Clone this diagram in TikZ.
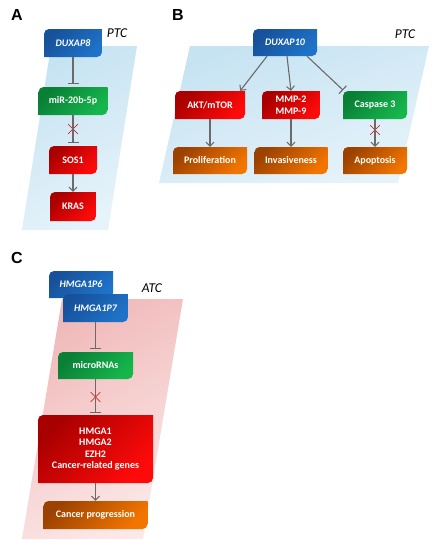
\documentclass[tikz,border=0pt]{standalone}
\usepackage{fontspec}
\setsansfont{Carlito}
\newfontfamily\panelfont{Liberation Sans}
\usetikzlibrary{arrows.meta,shapes.misc}

\definecolor{bluedark}{HTML}{17519A}
\definecolor{bluelight}{HTML}{1E73C8}
\definecolor{greendark}{HTML}{0A7F36}
\definecolor{greenlight}{HTML}{15B64C}
\definecolor{reddark}{HTML}{A80000}
\definecolor{redlight}{HTML}{FF0A0A}
\definecolor{orangedark}{HTML}{9C4200}
\definecolor{orangelight}{HTML}{F27500}
\definecolor{linkgray}{HTML}{6A6A6A}
\definecolor{skytop}{HTML}{C6E3F2}
\definecolor{skybot}{HTML}{E6F3FA}
\definecolor{rosetop}{HTML}{F0B9B9}
\definecolor{rosebot}{HTML}{FCE8E8}

\tikzset{
  leaf/.style 2 args={inner sep=1pt, text=white, align=center,
    font=\sffamily\bfseries\fontsize{10}{11.5}\selectfont,
    path picture={\shade[x=1pt, y=1pt, top color=#1, bottom color=#2, shading angle=45]
      (path picture bounding box.south west) -- ([yshift=-5pt]path picture bounding box.north west)
      arc[start angle=180, end angle=90, radius=5pt] -- (path picture bounding box.north east)
      -- ([yshift=5pt]path picture bounding box.south east)
      arc[start angle=0, end angle=-90, radius=5pt] -- cycle;}},
  bluebox/.style={leaf={bluedark}{bluelight}},
  greenbox/.style={leaf={greendark}{greenlight}},
  redbox/.style={leaf={reddark}{redlight}},
  orangebox/.style={leaf={orangedark}{orangelight}},
  act/.style={draw=linkgray, line width=1.1pt, -{Straight Barb[length=4pt, width=8pt, line width=1pt]}},
  inh/.style={draw=linkgray, line width=1.1pt, -{Bar[width=11pt, line width=1.1pt]}, shorten >=3pt},
  stop/.style={cross out, draw=red!85!black, line width=0.6pt, minimum size=9pt, inner sep=0pt},
  panel/.style={font=\panelfont\bfseries\fontsize{16}{16}\selectfont},
  tag/.style={font=\sffamily\itshape\fontsize{13.5}{13.5}\selectfont}
}

\begin{document}
\begin{tikzpicture}[x=1pt, y=-1pt]
    \useasboundingbox (0,0) rectangle (436,550);
    \shade[top color=skytop, bottom color=skybot, shading angle=30] (51,46) -- (137,46) -- (108,230) -- (22,230) -- cycle;
    \shade[top color=skytop, bottom color=skybot, shading angle=20] (190,46) -- (429,46) -- (398,183) -- (159,183) -- cycle;
    \shade[top color=rosetop, bottom color=rosebot, shading angle=30] (62,299) -- (183,299) -- (143,539) -- (22,539) -- cycle;

    \node[panel] (labA) at (17,15) {A};
    \node[panel] (labB) at (178,15) {B};
    \node[panel] (labC) at (17,258) {C};
    \node[tag] (ptcA) at (117,33) {PTC};
    \node[tag] (ptcB) at (405,34) {PTC};
    \node[tag] (atc) at (152,288) {ATC};

    \node[bluebox, minimum width=58pt, minimum height=28pt] (dux8) at (73,43) {\itshape DUXAP8};
    \node[greenbox, minimum width=69pt, minimum height=28pt] (mir) at (73,101) {miR-20b-5p};
    \node[redbox, minimum width=48pt, minimum height=28pt] (sos) at (73,160) {SOS1};
    \node[redbox, minimum width=46pt, minimum height=29pt] (kras) at (73,206.5) {KRAS};
    \node[stop] (xA) at (73,129) {};
    \draw[inh] (dux8.south) -- (mir.north);
    \draw[inh] (mir.south) -- (sos.north);
    \draw[act] (sos.south) -- (kras.north);

    \node[bluebox, minimum width=64pt, minimum height=27pt] (dux10) at (285,42.5) {\itshape DUXAP10};
    \node[redbox, minimum width=70pt, minimum height=28pt] (akt) at (210,105) {AKT/mTOR};
    \node[redbox, minimum width=58pt, minimum height=28pt] (mmp) at (291,105) {MMP-2\\MMP-9};
    \node[greenbox, minimum width=64pt, minimum height=28pt] (casp) at (375,105) {Caspase 3};
    \node[orangebox, minimum width=74pt, minimum height=27pt] (prol) at (210,160.5) {Proliferation};
    \node[orangebox, minimum width=73pt, minimum height=27pt] (inv) at (291,160.5) {Invasiveness};
    \node[orangebox, minimum width=64pt, minimum height=27pt] (apop) at (375,160.5) {Apoptosis};
    \node[stop] (xB) at (375,130) {};
    \draw[act] ([xshift=-18pt]dux10.south) -- ([xshift=-5pt]akt.north east);
    \draw[act] ([xshift=2pt]dux10.south) -- (mmp.north);
    \draw[inh, shorten >=1pt] ([xshift=22pt]dux10.south) -- ([xshift=1pt]casp.north west);
    \draw[act] (akt.south) -- (prol.north);
    \draw[act] (mmp.south) -- (inv.north);
    \draw[act] (casp.south) -- (apop.north);

    \node[bluebox, minimum width=64pt, minimum height=27pt] (p6) at (81,284.5) {\itshape HMGA1P6};
    \node[bluebox, minimum width=65pt, minimum height=28pt] (p7) at (95.5,308) {\itshape HMGA1P7};
    \node[greenbox, minimum width=75pt, minimum height=27pt] (mirna) at (95.5,365.5) {microRNAs};
    \node[redbox, minimum width=115pt, minimum height=68pt] (genes) at (95.5,449) {HMGA1\\HMGA2\\EZH2\\Cancer-related genes};
    \node[orangebox, minimum width=104pt, minimum height=28pt] (prog) at (95.5,515) {Cancer progression};
    \node[stop] (xC) at (95.5,397) {};
    \draw[inh] (p7.south) -- (mirna.north);
    \draw[inh, shorten >=2pt] (mirna.south) -- (genes.north);
    \draw[act] (genes.south) -- (prog.north);
\end{tikzpicture}
\end{document}
